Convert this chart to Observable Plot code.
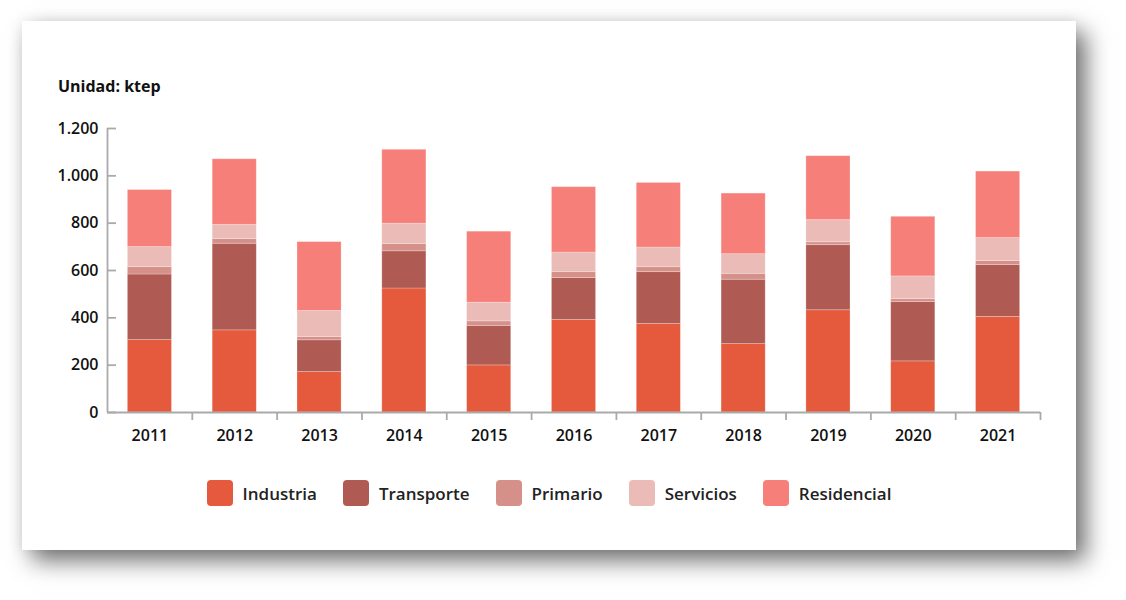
<!DOCTYPE html>
<html>
<head>
<meta charset="utf-8">
<script src="https://cdn.jsdelivr.net/npm/d3@7"></script>
<script src="https://cdn.jsdelivr.net/npm/@observablehq/plot@0.6"></script>
<style>
  html, body { margin: 0; padding: 0; background: #fff; width: 1126px; height: 600px; overflow: hidden; }
  body { font-family: "Open Sans", "Noto Sans", sans-serif; position: relative; }
  #card { position: absolute; left: 22px; top: 21px; width: 1054px; height: 529px; background: #fff;
          box-shadow: 10px 11px 22px rgba(0,0,0,0.55), 0 0 14px rgba(0,0,0,0.08); }
  #title { position: absolute; left: 36px; top: 55px; font-size: 16px; line-height: 20px; font-weight: 700; color: #111; }
  #chart { position: absolute; left: 0; top: 89px; }
  #legend { position: absolute; left: 0; width: 1054px; top: 459px; height: 26px; display: flex; justify-content: center; align-items: center; }
  .item { display: flex; align-items: center; margin: 0 13px; font-size: 17px; font-weight: 600; color: #222; }
  .sw { width: 26px; height: 26px; border-radius: 4px; margin-right: 10px; }
</style>
</head>
<body>
<div id="card">
  <div id="title">Unidad: ktep</div>
  <div id="chart"></div>
  <div id="legend"></div>
</div>
<script>
const years = ["2011","2012","2013","2014","2015","2016","2017","2018","2019","2020","2021"];
const sectors = ["Industria","Transporte","Primario","Servicios","Residencial"];
const colors = ["#E5593D","#AF5B53","#D6908A","#EBBBB7","#F67F79"];
const industria   = [306, 347, 171, 524, 199, 391, 374, 289, 432, 216, 404];
const transporte  = [277, 366, 134, 157, 167, 177, 219, 272, 275, 251, 219];
const primario    = [ 31,  20,  14,  31,  19,  26,  21,  25,  12,  12,  17];
const servicios   = [ 85,  60, 110,  86,  79,  82,  83,  83,  94,  96,  97];
const residencial = [241, 277, 291, 312, 300, 276, 273, 256, 270, 252, 281];
const yTicks = [0, 200, 400, 600, 800, 1000, 1200];

const series = [industria, transporte, primario, servicios, residencial];
const data = [];
sectors.forEach((s, i) => years.forEach((y, j) => data.push({year: y, sector: s, value: series[i][j]})));

const fmt = d3.formatLocale({decimal: ",", thousands: ".", grouping: [3], currency: ["", "€"]}).format(",d");

const W = 1054, H = 340;
const mL = 85, mR = 36;
const step = (W - mL - mR) / years.length;
const font = "Open Sans, Noto Sans, sans-serif";

const chart = Plot.plot({
  width: W, height: H,
  marginLeft: mL, marginRight: mR, marginTop: 18, marginBottom: 38,
  style: {fontFamily: font, fontSize: "16px", fontWeight: 600, color: "#111", background: "transparent"},
  x: {domain: years, paddingInner: 0.48, paddingOuter: 0.24, round: false, label: null},
  y: {domain: [0, 1200], label: null},
  color: {domain: sectors, range: colors},
  marks: [
    Plot.barY(data, {x: "year", y: "value", fill: "sector", order: sectors, stroke: "#fff", strokeOpacity: 0.3, strokeWidth: 0.8}),
    Plot.axisY({ticks: yTicks, tickSize: 0, tickPadding: 9, tickFormat: fmt, fill: "#111"}),
    Plot.axisY({ticks: yTicks, tickSize: 9, dx: 9, tickFormat: () => "", stroke: "#aaa", strokeWidth: 1.8}),
    Plot.ruleX([years[0]], {dx: -step / 2, y1: 0, y2: 1200, stroke: "#aaa", strokeWidth: 1.8}),
    Plot.ruleY([0], {stroke: "#aaa", strokeWidth: 1.8}),
    Plot.axisX({tickSize: 0, tickPadding: 17, fill: "#111"}),
    Plot.axisX({tickSize: 8, dx: step / 2, tickFormat: () => "", stroke: "#aaa", strokeWidth: 1.8})
  ]
});
document.getElementById("chart").appendChild(chart);

const legend = document.getElementById("legend");
sectors.forEach((s, i) => {
  const it = document.createElement("div");
  it.className = "item";
  it.innerHTML = `<span class="sw" style="background:${colors[i]}"></span><span>${s}</span>`;
  legend.appendChild(it);
});
</script>
</body>
</html>
